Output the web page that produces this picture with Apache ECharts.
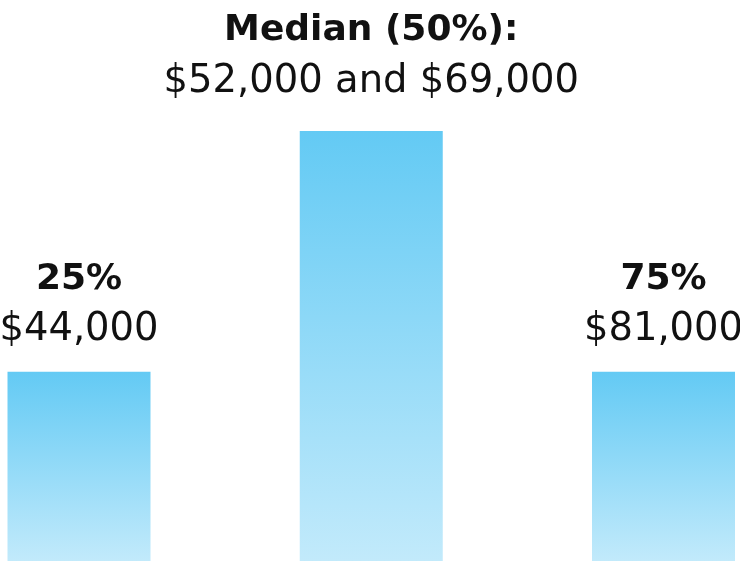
<!DOCTYPE html>
<html>
<head>
<meta charset="utf-8">
<script src="https://cdn.jsdelivr.net/npm/echarts@6/dist/echarts.min.js"></script>
<style>
html,body{margin:0;padding:0;background:#fff;}
#main{width:740px;height:561px;}
</style>
</head>
<body>
<div id="main"></div>
<script>
var categories = ['25%', 'Median', '75%'];
var barValues = [44, 100, 44];
var pctLabels = ['25%', 'Median (50%):', '75%'];
var salaryLabels = ['$44,000', '$52,000 and $69,000', '$81,000'];

var chart = echarts.init(document.getElementById('main'));
var data = barValues.map(function (v, i) {
  return {
    value: v,
    label: { distance: i === 1 ? 24 : 16 }
  };
});
chart.setOption({
  animation: false,
  grid: { left: 79, right: 76.5, top: 131, bottom: 0 },
  xAxis: {
    type: 'category',
    data: categories,
    boundaryGap: false,
    show: false
  },
  yAxis: { type: 'value', min: 0, max: 100, show: false },
  series: [{
    type: 'bar',
    data: data,
    barWidth: 143,
    itemStyle: {
      color: new echarts.graphic.LinearGradient(0, 0, 0, 1, [
        { offset: 0, color: '#63CAF4' },
        { offset: 1, color: '#C2EAFB' }
      ])
    },
    label: {
      show: true,
      position: 'top',
      formatter: function (p) {
        return '{b|' + pctLabels[p.dataIndex] + '}\n{r|' + salaryLabels[p.dataIndex] + '}';
      },
      rich: {
        b: { fontFamily: 'DejaVu Sans', fontWeight: 'bold', fontSize: 36, lineHeight: 51, color: '#111' },
        r: { fontFamily: 'DejaVu Sans', fontWeight: 'normal', fontSize: 38.5, lineHeight: 51, color: '#111' }
      }
    }
  }]
});
</script>
</body>
</html>
